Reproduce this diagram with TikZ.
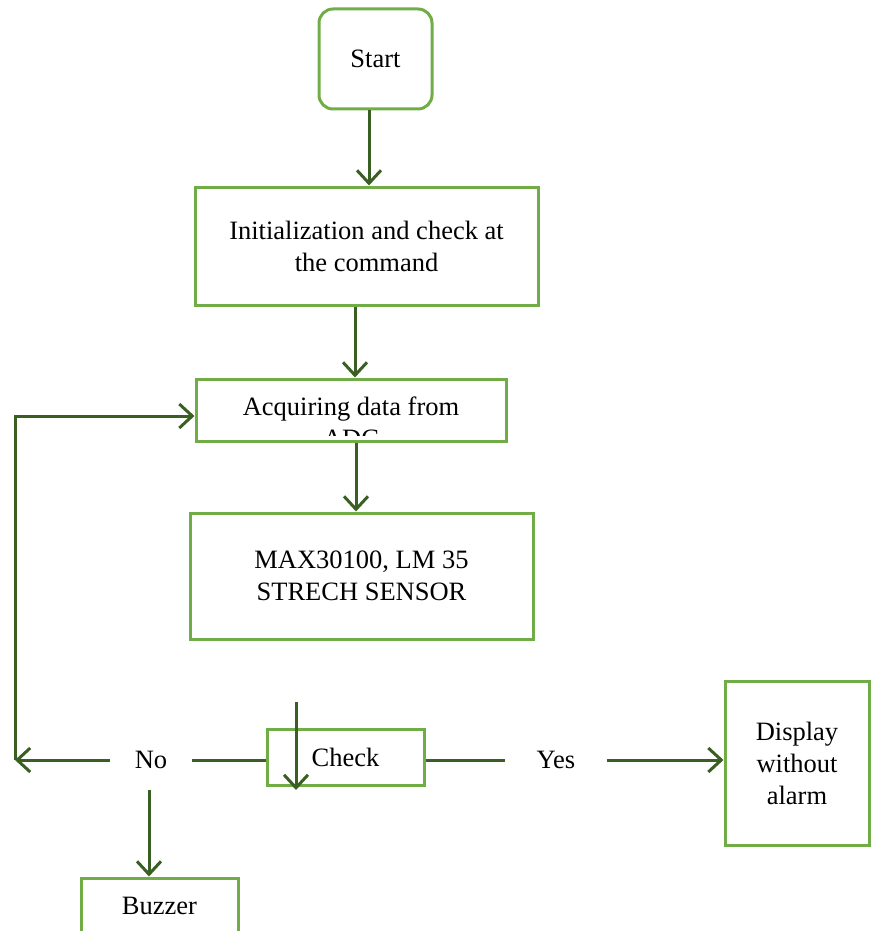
\documentclass[tikz,border=0pt]{standalone}
\usepackage{fontspec}
\setmainfont{Liberation Serif}
\usetikzlibrary{arrows.meta}
\definecolor{boxgreen}{HTML}{70AD47}
\definecolor{arrowgreen}{HTML}{3A5F23}

\begin{document}
\begin{tikzpicture}[x=1pt,y=-1pt,
  box/.style={draw=boxgreen, line width=3pt, rectangle, inner sep=0pt,
    align=center, font=\fontsize{26.5}{32}\selectfont},
  flow/.style={draw=arrowgreen, line width=3pt,
    -{Straight Barb[length=13pt,width=24pt]}},
  plain/.style={draw=arrowgreen, line width=3pt},
  lbl/.style={inner sep=0pt, font=\fontsize{26.5}{32}\selectfont}]
\useasboundingbox (0,0) rectangle (871,931);

% process boxes
\node[box, rounded corners=14pt, minimum width=113pt, minimum height=100pt]
  (start) at (375.5,59) {Start};
\node[box, minimum width=343pt, minimum height=118pt]
  (init) at (366.5,246) {Initialization and check at\\the command};
\node[box, minimum width=310pt, minimum height=62pt] (acq) at (351,410) {};
\begin{scope}
  \clip ([yshift=-1.5pt]acq.north west) rectangle ([yshift=7pt]acq.south east);
  \node[lbl, align=center] (acqtext) at (351,422) {Acquiring data from\\ADC};
\end{scope}
\node[box, minimum width=343pt, minimum height=126pt]
  (sensor) at (361.5,576) {MAX30100, LM 35\\STRECH SENSOR};
\node[box, minimum width=157pt, minimum height=56pt] (check) at (345.5,757) {Check};
\node[box, minimum width=144pt, minimum height=164pt]
  (display) at (797,763) {Display\\without\\alarm};
\node[box, minimum width=157pt, minimum height=56pt] (buzzer) at (159.5,906) {Buzzer};

% branch labels
\node[lbl, minimum width=82pt, minimum height=60pt] (no) at (151,760) {No};
\node[lbl, minimum width=102pt, minimum height=60pt] (yes) at (556,760) {Yes};

% free ends
\coordinate (chkin) at (296,702);
\coordinate (chkout) at (296,790);
\coordinate (loop) at (15,760);

% connectors
\draw[flow] ([xshift=-6.5pt]start.south) -- ([xshift=-6.5pt]start.south |- init.north);
\draw[flow] ([xshift=-11.5pt]init.south) -- ([xshift=-11.5pt]init.south |- acq.north);
\draw[flow] ([xshift=5pt]acq.south) -- ([xshift=5pt]acq.south |- sensor.north);
\draw[flow] (chkin) -- (chkout);
\draw[plain] (no.east) -- (no.east -| check.west);
\draw[flow] (no.west) -- (loop);
\draw[flow] (loop) |- ([yshift=-6pt]acq.west);
\draw[plain] (yes.west -| check.east) -- (yes.west);
\draw[flow] (yes.east) -- (yes.east -| display.west);
\draw[flow] ([xshift=-2pt]no.south) -- ([xshift=-2pt]no.south |- buzzer.north);
\end{tikzpicture}
\end{document}
